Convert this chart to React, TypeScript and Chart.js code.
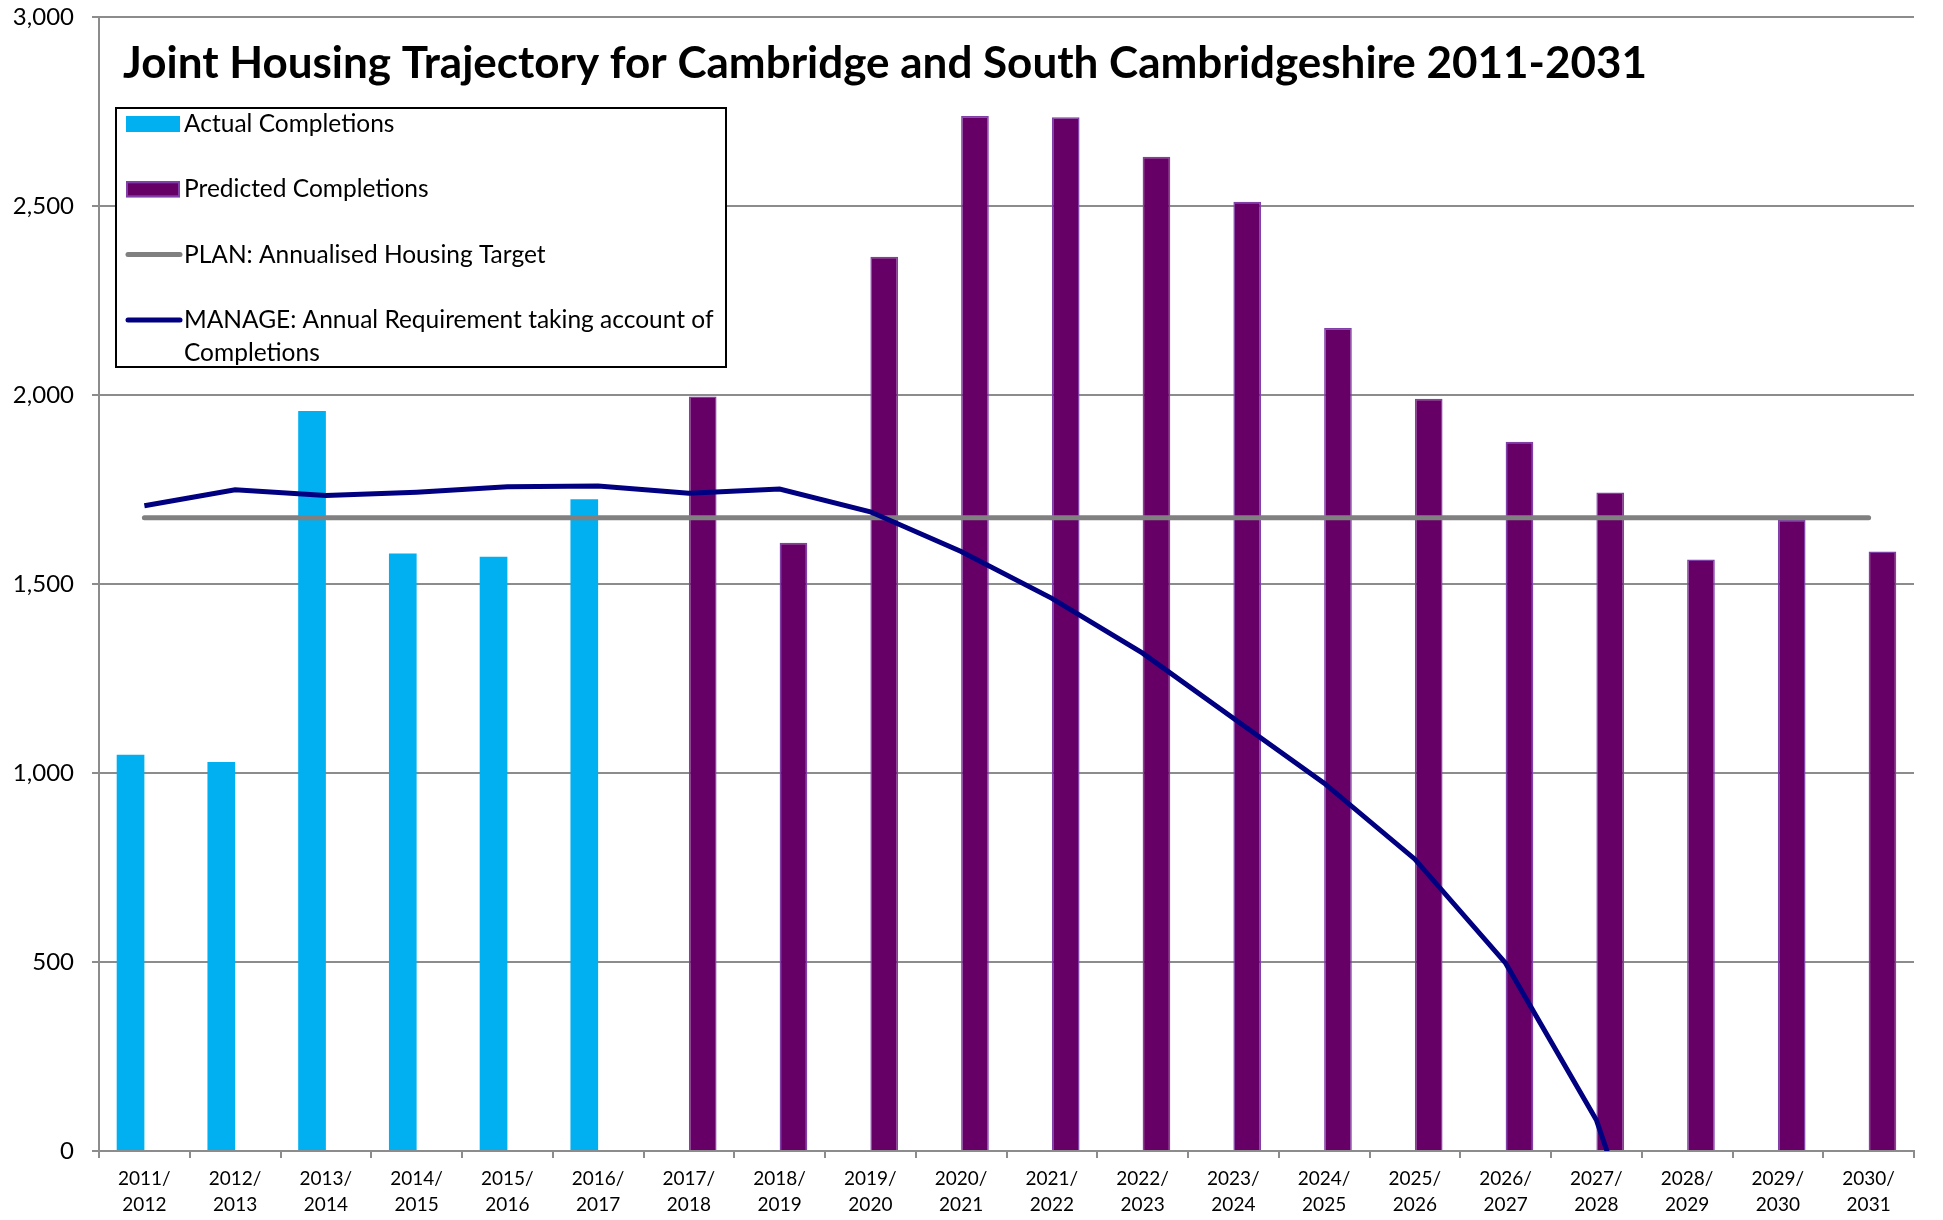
import React, { useEffect, useRef } from "react";
import { Chart, registerables } from "chart.js";

Chart.register(...registerables);

const chartTitle = "Joint Housing Trajectory for Cambridge and South Cambridgeshire 2011-2031";

const periods = [
  "2011/2012", "2012/2013", "2013/2014", "2014/2015", "2015/2016",
  "2016/2017", "2017/2018", "2018/2019", "2019/2020", "2020/2021",
  "2021/2022", "2022/2023", "2023/2024", "2024/2025", "2025/2026",
  "2026/2027", "2027/2028", "2028/2029", "2029/2030", "2030/2031",
];

const actualCompletions = [
  1048, 1029, 1958, 1581, 1572, 1724,
  null, null, null, null, null, null, null, null, null, null, null, null, null, null,
];

const predictedCompletions = [
  null, null, null, null, null, null,
  1996, 1609, 2366, 2738, 2735, 2630, 2511, 2177, 1990, 1876, 1742, 1565, 1670, 1586,
];

const planTarget = [
  1675, 1675, 1675, 1675, 1675, 1675, 1675, 1675, 1675, 1675,
  1675, 1675, 1675, 1675, 1675, 1675, 1675, 1675, 1675, 1675,
];

const manageRequirement = [
  1707, 1749, 1734, 1743, 1757, 1759, 1740, 1751, 1691, 1586,
  1462, 1317, 1145, 973, 772, 497, 82, -620, null, null,
];

const yTicks = { min: 0, max: 3000, step: 500 };

const seriesLabels = {
  actual: "Actual Completions",
  predicted: "Predicted Completions",
  plan: "PLAN: Annualised Housing Target",
  manage: "MANAGE: Annual Requirement taking account of Completions",
};

const FONT = "Lato, 'Open Sans', sans-serif";

const overlayPlugin = {
  id: "titleAndLegend",
  afterDraw(chart: any) {
    const ctx = chart.ctx as CanvasRenderingContext2D;
    const area = chart.chartArea;
    ctx.save();
    // title
    ctx.font = `bold 44px ${FONT}`;
    ctx.fillStyle = "#000";
    ctx.textAlign = "left";
    ctx.textBaseline = "alphabetic";
    ctx.fillText(chartTitle, area.left + 24, area.top + 61);

    // legend box
    const bx = area.left + 17;
    const by = area.top + 91;
    const bw = 610;
    const bh = 259;
    ctx.fillStyle = "#fff";
    ctx.fillRect(bx, by, bw, bh);
    ctx.lineWidth = 2;
    ctx.strokeStyle = "#000";
    ctx.strokeRect(bx, by, bw, bh);

    const order = [2, 3, 1, 0];
    ctx.font = `24.5px ${FONT}`;
    order.forEach((dsIndex, i) => {
      const ds = chart.data.datasets[dsIndex];
      const base = by + 24 + i * 65.3;
      const sx = bx + 10;
      const symW = 54;
      if (ds.type === "line") {
        ctx.strokeStyle = ds.borderColor;
        ctx.lineWidth = 5;
        ctx.lineCap = "round";
        ctx.beginPath();
        ctx.moveTo(sx + 2, base - 8);
        ctx.lineTo(sx + symW, base - 8);
        ctx.stroke();
      } else {
        ctx.fillStyle = ds.backgroundColor;
        ctx.fillRect(sx, base - 16, symW, 16);
        if (ds.borderWidth) {
          ctx.strokeStyle = ds.borderColor;
          ctx.lineWidth = 2;
          ctx.strokeRect(sx + 1, base - 15, symW - 2, 14);
        }
      }
      // wrap text
      const maxW = bw - 68 - 4;
      const words = String(ds.label).split(" ");
      const lines: string[] = [];
      let cur = "";
      words.forEach((w) => {
        const test = cur ? cur + " " + w : w;
        if (ctx.measureText(test).width > maxW && cur) {
          lines.push(cur);
          cur = w;
        } else {
          cur = test;
        }
      });
      if (cur) lines.push(cur);
      ctx.fillStyle = "#000";
      lines.forEach((ln, j) => ctx.fillText(ln, bx + 68, base + j * 33));
    });
    ctx.restore();
  },
};

export default function App() {
  const canvasRef = useRef<HTMLCanvasElement | null>(null);

  useEffect(() => {
    let chart: Chart | null = null;
    let cancelled = false;
    const build = () => {
      if (cancelled || !canvasRef.current) return;
      chart = new Chart(canvasRef.current, {
        type: "bar",
        data: {
          labels: periods.map((p) => [p.slice(0, 5), p.slice(5)]),
          datasets: [
            {
              type: "line",
              label: seriesLabels.manage,
              data: manageRequirement,
              borderColor: "#000080",
              backgroundColor: "#000080",
              borderWidth: 5,
              pointRadius: 0,
              tension: 0,
              spanGaps: false,
            } as any,
            {
              type: "line",
              label: seriesLabels.plan,
              data: planTarget,
              borderColor: "#808080",
              backgroundColor: "#808080",
              borderWidth: 5,
              borderCapStyle: "round",
              pointRadius: 0,
              tension: 0,
            } as any,
            {
              type: "bar",
              label: seriesLabels.actual,
              data: actualCompletions,
              backgroundColor: "#00B0F0",
              borderWidth: 0,
              categoryPercentage: 0.61,
              barPercentage: 1.0,
            } as any,
            {
              type: "bar",
              label: seriesLabels.predicted,
              data: predictedCompletions,
              backgroundColor: "#660066",
              borderColor: "#8040A8",
              borderWidth: 1.5,
              categoryPercentage: 0.61,
              barPercentage: 1.0,
            } as any,
          ],
        },
        options: {
          animation: false,
          responsive: true,
          maintainAspectRatio: false,
          layout: { padding: { top: 17, right: 29, left: 0, bottom: 0 } },
          plugins: {
            legend: { display: false },
            title: { display: false },
            tooltip: { enabled: false },
          },
          scales: {
            x: {
              grid: {
                display: true,
                drawOnChartArea: false,
                drawTicks: true,
                tickLength: 7,
                color: "#8c8c8c",
                lineWidth: 2,
                offset: true,
              },
              border: { display: true, color: "#8c8c8c", width: 2 },
              ticks: {
                font: { family: FONT, size: 19, lineHeight: 1.37 },
                color: "#000",
                padding: 8,
                maxRotation: 0,
                autoSkip: false,
              },
              afterFit: (s: any) => {
                s.height = 69;
                s.paddingLeft = 0;
                s.paddingRight = 0;
              },
            },
            y: {
              min: yTicks.min,
              max: yTicks.max,
              ticks: {
                stepSize: yTicks.step,
                font: { family: FONT, size: 24 },
                color: "#000",
                padding: 18,
              },
              grid: {
                color: "#8c8c8c",
                lineWidth: 2,
                tickLength: 7,
                drawTicks: true,
              },
              border: { display: true, color: "#8c8c8c", width: 2 },
              afterFit: (s: any) => {
                s.width = 99;
                s.paddingTop = 0;
                s.paddingBottom = 0;
              },
            },
          },
        },
        plugins: [overlayPlugin],
      });
    };
    const fontsReady = (document as any).fonts
      ? Promise.all([
          (document as any).fonts.load(`24px Lato`),
          (document as any).fonts.load(`bold 44px Lato`),
        ]).catch(() => null)
      : Promise.resolve(null);
    fontsReady.then(build);
    return () => {
      cancelled = true;
      if (chart) chart.destroy();
    };
  }, []);

  return (
    <div style={{ position: "absolute", left: 0, top: 0, width: 1943, height: 1220, background: "#fff" }}>
      <canvas ref={canvasRef} />
    </div>
  );
}
